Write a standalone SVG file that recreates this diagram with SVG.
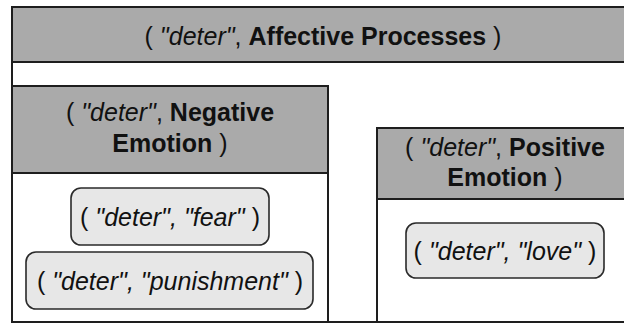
<svg xmlns="http://www.w3.org/2000/svg" width="624" height="324" viewBox="0 0 624 324">
<style>
.box{fill:#ffffff;stroke:#1e1e1e;stroke-width:2}
.hdr{fill:#aaaaaa;stroke:#1e1e1e;stroke-width:2}
.leaf{fill:#e7e7e7;stroke:#2a2a2a;stroke-width:1.6}
text{font-family:"Liberation Sans",Arial,sans-serif;font-size:25px;fill:#111111;text-anchor:middle}
.i{font-style:italic}
.b{font-weight:bold}
</style>
<rect width="624" height="324" fill="#ffffff"/>
<g id="affective-processes">
<rect class="box" x="12" y="7" width="622" height="315"/>
<rect class="hdr" x="12" y="7" width="622" height="55"/>
<text x="323" y="45">( <tspan class="i">"deter"</tspan>, <tspan class="b">Affective Processes</tspan> )</text>
</g>
<g id="negative-emotion">
<rect class="box" x="12" y="86" width="316" height="236"/>
<rect class="hdr" x="12" y="86" width="316" height="87"/>
<text x="170" y="121">( <tspan class="i">"deter"</tspan>, <tspan class="b">Negative</tspan></text>
<text x="170" y="152"><tspan class="b">Emotion</tspan> )</text>
</g>
<g id="positive-emotion">
<rect class="box" x="377" y="128" width="257" height="194"/>
<rect class="hdr" x="377" y="128" width="257" height="71"/>
<text x="505" y="156">( <tspan class="i">"deter"</tspan>, <tspan class="b">Positive</tspan></text>
<text x="505" y="186"><tspan class="b">Emotion</tspan> )</text>
</g>
<g id="fear">
<rect class="leaf" x="71" y="188" width="198" height="57" rx="10"/>
<text x="170" y="226">( <tspan class="i">"deter", "fear"</tspan> )</text>
</g>
<g id="punishment">
<rect class="leaf" x="26" y="252" width="287" height="57" rx="10"/>
<text x="170" y="290">( <tspan class="i">"deter", "punishment"</tspan> )</text>
</g>
<g id="love">
<rect class="leaf" x="406" y="223" width="198" height="55" rx="10"/>
<text x="505" y="260">( <tspan class="i">"deter", "love"</tspan> )</text>
</g>
<g id="connectors"/>
</svg>
